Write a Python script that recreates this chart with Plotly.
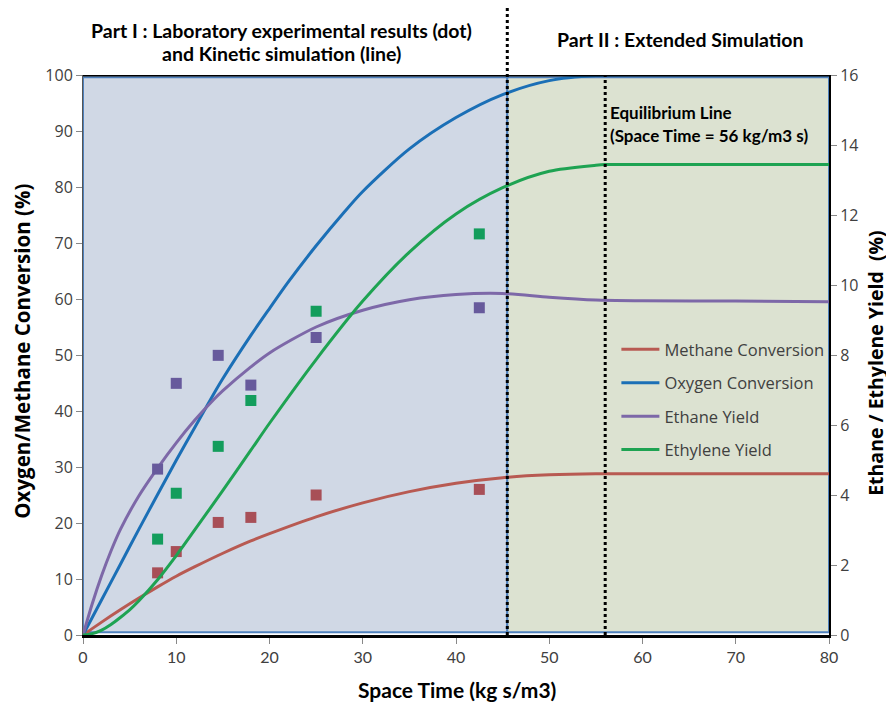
import plotly.graph_objects as go

# ---------------- data ----------------
# simulation curves (space time, kg s/m3) - left axis (%)
methane_x = [0, 2, 4, 6, 8, 10, 12, 15, 18, 20, 25, 30, 35, 40, 45, 50, 55, 60, 70, 80]
methane_conv = [0, 2.3, 4.5, 6.6, 8.6, 10.5, 12.2, 14.6, 16.8, 18.1, 21.1, 23.6, 25.6, 27.1, 28.1, 28.6, 28.8, 28.8, 28.8, 28.8]

oxygen_x = [0, 2, 4, 6, 8, 10, 12, 14, 15, 18, 20, 22, 25, 28, 30, 35, 40, 45, 50, 55, 60, 70, 80]
oxygen_conv = [0, 6.3, 12.6, 18.9, 25.1, 31.2, 37.1, 43.0, 45.8, 53.5, 58.3, 63.0, 69.5, 75.5, 79.2, 86.8, 92.4, 96.5, 99.0, 99.9, 100, 100, 100]

# right axis (%)
ethane_x = [0, 1, 2, 3, 4, 6, 8, 10, 12, 14, 15, 18, 20, 25, 30, 35, 40, 45, 50, 55, 60, 70, 80]
ethane_yield = [0, 0.90, 1.70, 2.40, 3.01, 3.98, 4.77, 5.49, 6.14, 6.72, 6.98, 7.66, 8.06, 8.80, 9.28, 9.58, 9.73, 9.76, 9.65, 9.57, 9.55, 9.54, 9.52]

ethylene_x = [0, 1, 2, 3, 4, 5, 6, 8, 10, 12, 15, 18, 20, 25, 30, 35, 40, 45, 50, 55, 56, 60, 70, 80]
ethylene_yield = [0, 0.04, 0.14, 0.30, 0.50, 0.72, 0.98, 1.58, 2.27, 3.01, 4.13, 5.28, 6.05, 7.87, 9.54, 10.94, 12.03, 12.78, 13.25, 13.42, 13.44, 13.44, 13.44, 13.44]

# laboratory experimental points
exp_x = [8, 10, 14.5, 18, 25, 42.5]
exp_methane = [11.1, 14.9, 20.1, 21.0, 25.0, 26.0]     # left axis
exp_ethane = [4.74, 7.19, 7.99, 7.14, 8.50, 9.35]      # right axis
exp_ethylene = [2.74, 4.05, 5.39, 6.70, 9.25, 11.46]   # right axis

part_boundary = 45.5
equilibrium_x = 56

NARROW = "Lato, Carlito, 'Liberation Sans', sans-serif"
WIDE = "'Open Sans', 'Noto Sans', 'DejaVu Sans', sans-serif"
C_RED, C_BLUE, C_PURPLE, C_GREEN = "#b85a52", "#1b6fb6", "#7d68a8", "#1ea352"
P_RED, P_PURPLE, P_GREEN = "#a84f57", "#675a9c", "#139d5c"

fig = go.Figure()

curves = [
    ("Methane Conversion", methane_x, methane_conv, C_RED, "y"),
    ("Oxygen Conversion", oxygen_x, oxygen_conv, C_BLUE, "y"),
    ("Ethane Yield", ethane_x, ethane_yield, C_PURPLE, "y2"),
    ("Ethylene Yield", ethylene_x, ethylene_yield, C_GREEN, "y2"),
]
for i, (name, xs, vals, col, ax) in enumerate(curves):
    fig.add_trace(go.Scatter(x=xs, y=vals, name=name, mode="lines", yaxis=ax,
                             line=dict(color=col, width=3, shape="spline", smoothing=0.8),
                             legendgroup=f"g{i}"))

for vals, col, ax in [(exp_methane, P_RED, "y"), (exp_ethane, P_PURPLE, "y2"), (exp_ethylene, P_GREEN, "y2")]:
    fig.add_trace(go.Scatter(x=exp_x, y=vals, mode="markers", yaxis=ax, showlegend=False,
                             marker=dict(symbol="square", size=11, color=col)))

shapes = [
    dict(type="rect", xref="x", yref="y", x0=0, x1=part_boundary, y0=0.5, y1=99.6,
         fillcolor="#d0d8e5", line=dict(color="#4f81bd", width=2), layer="below"),
    dict(type="rect", xref="x", yref="y", x0=part_boundary, x1=80, y0=0.5, y1=99.6,
         fillcolor="#dce2d1", line=dict(color="#4f81bd", width=2), layer="below"),
    dict(type="line", xref="x", yref="y", x0=0, x1=80, y0=100, y1=100,
         line=dict(color="black", width=3)),
    dict(type="line", xref="x", yref="paper", x0=part_boundary, x1=part_boundary, y0=0, y1=1.12,
         line=dict(color="black", width=3, dash="dot")),
    dict(type="line", xref="x", yref="paper", x0=equilibrium_x, x1=equilibrium_x, y0=0, y1=1,
         line=dict(color="black", width=3, dash="dot")),
]

head = dict(family=NARROW, size=19.5, color="black")
eq = dict(family=NARROW, size=17, color="black")
ytitle = dict(family=WIDE, size=20.5, color="black")
annotations = [
    dict(text="<b>Part I : Laboratory experimental results (dot)</b>", x=0.266, y=1.080,
         xref="paper", yref="paper", showarrow=False, font=head, xanchor="center", yanchor="middle"),
    dict(text="<b>and Kinetic simulation (line)</b>", x=0.266, y=1.0375,
         xref="paper", yref="paper", showarrow=False, font=head, xanchor="center", yanchor="middle"),
    dict(text="<b>Part II : Extended Simulation</b>", x=0.801, y=1.064,
         xref="paper", yref="paper", showarrow=False, font=head, xanchor="center", yanchor="middle"),
    dict(text="<b>Equilibrium Line</b>", x=56.3, y=93.3, xref="x", yref="y", showarrow=False,
         font=eq, xanchor="left", yanchor="middle"),
    dict(text="<b>(Space Time = 56 kg/m3 s)</b>", x=56.3, y=89.2, xref="x", yref="y", showarrow=False,
         font=eq, xanchor="left", yanchor="middle"),
    dict(text="<b>Oxygen/Methane Conversion (%)</b>", x=-0.0822, y=0.507, xref="paper", yref="paper",
         showarrow=False, textangle=-90, font=ytitle, xanchor="center", yanchor="middle"),
    dict(text="<b>Ethane / Ethylene Yield\u00a0 (%)</b>", x=1.063, y=0.486, xref="paper", yref="paper",
         showarrow=False, textangle=-90, font=dict(family=WIDE, size=19.5, color="black"),
         xanchor="center", yanchor="middle"),
    dict(text="<b>Space Time (kg s/m3)</b>", x=0.502, y=-0.098, xref="paper", yref="paper",
         showarrow=False, font=dict(family=NARROW, size=21, color="black"),
         xanchor="center", yanchor="middle"),
]

ytick = dict(family=WIDE, size=16, color="#404040")
xtick = dict(family=NARROW, size=16, color="#404040")

# the page body adds an 8px offset, so the figure is 8px smaller on each side
fig.update_layout(
    width=886, height=694,
    margin=dict(l=75, r=65, t=67, b=67),
    paper_bgcolor="white", plot_bgcolor="white",
    showlegend=True,
    legend=dict(x=0.715, y=0.541, xanchor="left", yanchor="top", bgcolor="rgba(0,0,0,0)",
                font=dict(family=WIDE, size=16.5, color="#404040"), tracegroupgap=9,
                itemwidth=38),
    shapes=shapes, annotations=annotations,
    xaxis=dict(range=[0, 80], dtick=10, showgrid=False, zeroline=False,
               ticks="outside", ticklen=6, tickcolor="#888888", tickfont=xtick,
               showline=True, linecolor="black", linewidth=3),
    yaxis=dict(range=[0, 100], dtick=10, showgrid=False, zeroline=False,
               ticks="outside", ticklen=6, tickcolor="#888888", tickfont=ytick,
               showline=True, linecolor="#555555", linewidth=1),
    yaxis2=dict(range=[0, 16], dtick=2, overlaying="y", side="right", showgrid=False, zeroline=False,
                ticks="outside", ticklen=6, tickcolor="#888888", tickfont=ytick,
                showline=True, linecolor="black", linewidth=2),
)

fig.write_html("out.html")
